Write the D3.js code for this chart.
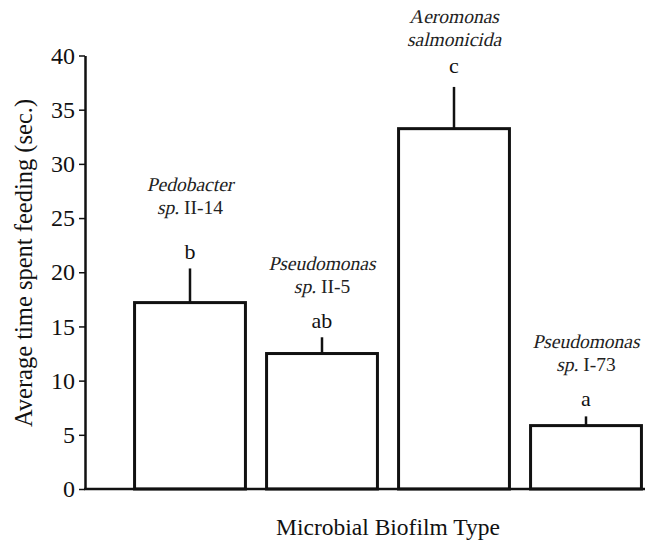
<!DOCTYPE html>
<html>
<head>
<meta charset="utf-8">
<script src="https://cdn.jsdelivr.net/npm/d3@7"></script>
</head>
<body style="margin:0; background:#fff">
<svg id="chart" width="645" height="546"></svg>
<script>
// data
const genus = ['Pedobacter', 'Pseudomonas', 'Aeromonas', 'Pseudomonas'];
const strain = ['II-14', 'II-5', 'salmonicida', 'I-73'];
const meanTime = [17.2, 12.5, 33.25, 5.85];
const errTop = [20.35, 14.0, 37.1, 6.7];
const groupLetter = ['b', 'ab', 'c', 'a'];
const yTicks = [0, 5, 10, 15, 20, 25, 30, 35, 40];

// label placement (px above the error bar top)
const letterLift = [9, 9, 14, 10];
const nameLift = [45, 35, 27, 35];

const serif = '"Liberation Serif", "Times New Roman", serif';
const ink = '#111';
const nameSize = '19.5px';
const slant = 'skewX(-13)'; // italic face is not available, so slant the upright one

const svg = d3.select('#chart');

const x = d3.scaleBand()
	.domain(d3.range(genus.length))
	.range([124, 652])
	.paddingInner(0.16)
	.paddingOuter(0.08);

const y = d3.scaleLinear()
	.domain([0, 40])
	.range([489, 55.5]);

// bars
svg.selectAll('rect.bar')
	.data(meanTime)
	.join('rect')
	.attr('class', 'bar')
	.attr('x', (d, i) => x(i))
	.attr('y', d => y(d))
	.attr('width', x.bandwidth())
	.attr('height', d => y(0) - y(d))
	.style('fill', '#fff')
	.style('stroke', ink)
	.style('stroke-width', 3);

// upper error whiskers
svg.selectAll('line.err')
	.data(errTop)
	.join('line')
	.attr('class', 'err')
	.attr('x1', (d, i) => x(i) + x.bandwidth() / 2)
	.attr('x2', (d, i) => x(i) + x.bandwidth() / 2)
	.attr('y1', (d, i) => y(meanTime[i]))
	.attr('y2', d => y(d))
	.style('stroke', ink)
	.style('stroke-width', 2.5);

// axes
const yAxis = svg.append('g')
	.attr('transform', 'translate(85,0)')
	.call(d3.axisLeft(y).tickValues(yTicks).tickSize(6).tickPadding(4).tickSizeOuter(0));
yAxis.select('.domain').style('stroke', ink).style('stroke-width', 2.5);
yAxis.selectAll('.tick line').style('stroke', ink).style('stroke-width', 1.5);
yAxis.selectAll('.tick text')
	.style('font-family', serif)
	.style('font-size', '24px')
	.style('fill', ink);

svg.append('line')
	.attr('x1', 84).attr('x2', 645)
	.attr('y1', y(0)).attr('y2', y(0))
	.style('stroke', ink)
	.style('stroke-width', 2.5);

// group letters
svg.selectAll('text.letter')
	.data(groupLetter)
	.join('text')
	.attr('class', 'letter')
	.attr('x', (d, i) => x(i) + x.bandwidth() / 2)
	.attr('y', (d, i) => y(errTop[i]) - letterLift[i])
	.attr('text-anchor', 'middle')
	.style('font-family', serif)
	.style('font-size', '22px')
	.style('fill', ink)
	.text(d => d);

// organism names, two lines
const names = svg.selectAll('g.name')
	.data(genus)
	.join('g')
	.attr('class', 'name')
	.attr('transform', (d, i) => `translate(${x(i) + x.bandwidth() / 2},${y(errTop[i]) - letterLift[i] - nameLift[i]})`);

function nameText(sel) {
	return sel.append('text')
		.style('font-family', serif)
		.style('font-size', nameSize)
		.style('fill', '#222');
}

// first line: genus, slanted
names.append('g')
	.attr('transform', 'translate(0,-23) ' + slant)
	.call(g => nameText(g).attr('text-anchor', 'middle').text(d => d));

// second line: "sp." slanted + upright strain, or species name slanted
names.each(function(d, i) {
	const g = d3.select(this);
	if (strain[i] === 'salmonicida') {
		g.append('g').attr('transform', slant)
			.call(s => nameText(s).attr('text-anchor', 'middle').text(strain[i]));
		return;
	}
	const sp = g.append('g');
	const spText = nameText(sp).text('sp.');
	const rest = nameText(g).text('\u00a0' + strain[i]);
	const w1 = spText.node().getComputedTextLength();
	const w2 = rest.node().getComputedTextLength();
	const x0 = -(w1 + w2) / 2;
	sp.attr('transform', `translate(${x0},0) ${slant}`);
	rest.attr('x', x0 + w1);
});

// axis titles
svg.append('text')
	.attr('transform', 'translate(32,263) rotate(-90)')
	.attr('text-anchor', 'middle')
	.style('font-family', serif)
	.style('font-size', '24.5px')
	.style('fill', ink)
	.text('Average time spent feeding (sec.)');

svg.append('text')
	.attr('x', 388)
	.attr('y', 535)
	.attr('text-anchor', 'middle')
	.style('font-family', serif)
	.style('font-size', '23.5px')
	.style('fill', ink)
	.text('Microbial Biofilm Type');
</script>
</body>
</html>
